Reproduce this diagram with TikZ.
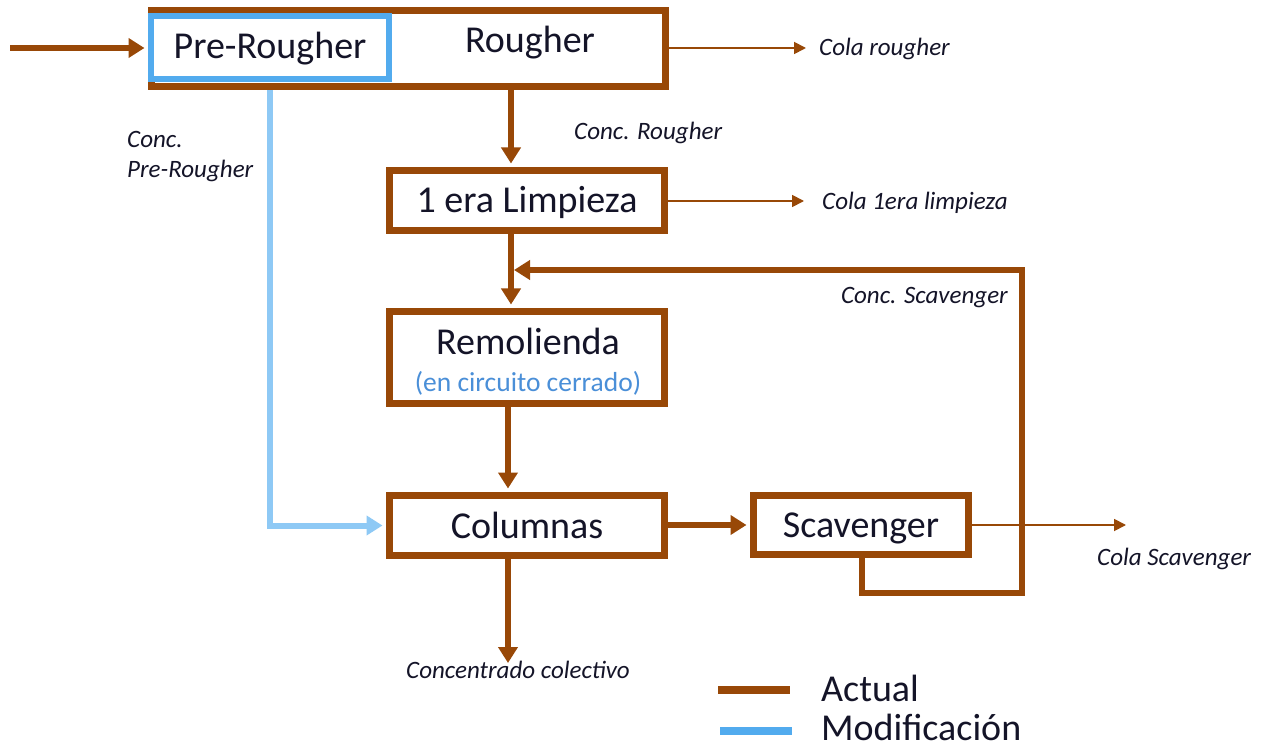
\documentclass[tikz,border=0pt]{standalone}
\usepackage{fontspec}
\setmainfont{Carlito}
\usetikzlibrary{arrows.meta,backgrounds}
\definecolor{rust}{HTML}{984807}
\definecolor{skyline}{HTML}{8EC9F5}
\definecolor{skybox}{HTML}{52ABEE}
\definecolor{noteblue}{HTML}{4A8FD8}
\definecolor{ink}{HTML}{141428}

\begin{document}
\begin{tikzpicture}[x=1pt,y=-1pt,
  unit/.style={draw=rust, line width=7pt, fill=white, inner sep=0pt,
    font=\fontsize{38}{40}\selectfont, text=ink, text height=30pt, text depth=5pt},
  unittext/.style={font=\fontsize{38}{40}\selectfont, text=ink, inner sep=0pt, anchor=base},
  flow/.style={draw=rust, line width=6pt,
    -{Triangle[length=16pt,width=19pt]}, shorten >=3.5pt},
  blueflow/.style={draw=skyline, line width=6pt,
    -{Triangle[length=16pt,width=19pt]}, shorten >=3.5pt},
  tail/.style={draw=rust, line width=1.8pt,
    -{Triangle[length=12pt,width=12pt]}},
  note/.style={font=\fontsize{25}{30}\selectfont\itshape, text=ink, inner sep=0pt},
  legendtext/.style={font=\fontsize{38}{40}\selectfont, text=ink, inner sep=0pt, anchor=base west}
]
\useasboundingbox (0,0) rectangle (1267,746);

% process units
\node[unit, minimum width=514pt, minimum height=76pt] (rough) at (408,49) {};
\node[unittext] (rtext) at (530,53) {Rougher};
\node[unit, draw=skybox, line width=6pt, minimum width=238pt, minimum height=63pt,
      text height=28pt] (pre) at (270,47.5) {Pre-Rougher};
\node[unit, minimum width=275pt, minimum height=60pt] (lim) at (527,200.5) {1 era Limpieza};
\node[unit, minimum width=275pt, minimum height=92pt] (rem) at (527,357.5) {};
\node[unittext] (remtext) at (528,354) {Remolienda};
\node[font=\fontsize{27.5}{30}\selectfont, text=noteblue, inner sep=0pt, anchor=base] (remnote) at (528,391) {(en circuito cerrado)};
\node[unit, minimum width=275pt, minimum height=60pt] (col) at (527,525.5) {Columnas};
\node[unit, minimum width=215pt, minimum height=59pt] (scav) at (861,525) {Scavenger};

% free ends and bends of the streams
\coordinate (inlet) at (10,48);
\coordinate (colaR) at (806,48);
\coordinate (colaL) at (804,201);
\coordinate (colaS) at (1126,524);
\coordinate (loopSW) at (862,593);
\coordinate (loopSE) at (1022,593);
\coordinate (loopNE) at (1022,270);
\coordinate (merge) at (511,270);
\coordinate (product) at (508,663);

% streams, drawn behind the units
\begin{scope}[on background layer]
  \fill[white] (0,0) rectangle (1267,746);
  \draw[flow] (inlet) -- (inlet -| pre.west);
  \draw[tail] (rough.east |- colaR) -- (colaR);
  \draw[flow] (rough.south -| merge) -- (lim.north -| merge);
  \draw[tail] (lim.east |- colaL) -- (colaL);
  \draw[flow] (lim.south -| merge) -- (rem.north -| merge);
  \draw[flow, shorten >=3pt] (scav.south -| loopSW) -- (loopSW) -- (loopSE) -- (loopNE) -- (merge);
  \draw[flow] (rem.south -| product) -- (col.north -| product);
  \draw[blueflow] (pre.south) |- (col.west);
  \draw[flow] (col.east |- scav.west) -- (scav.west);
  \draw[tail] (scav.east) -- (scav.east -| colaS);
  \draw[flow, shorten >=0pt] (col.south -| product) -- (product);
\end{scope}

% stream labels
\node[note, anchor=base west] (lcolaR) at (819,56) {Cola rougher};
\node[note, anchor=base west] (lconcR) at (574,140) {Conc. Rougher};
\node[note, anchor=base west] (lcolaL) at (822,210) {Cola 1era limpieza};
\node[note, anchor=base east] (lconcS) at (1008,303) {Conc. Scavenger};
\node[note, anchor=base west] (lconcP) at (127,148) {Conc.};
\node[note, anchor=base west] (lconcP2) at (127,178) {Pre-Rougher};
\node[note, anchor=base west] (lcolaS) at (1097,565) {Cola Scavenger};
\node[note, anchor=base] (lprod) at (518,678) {Concentrado colectivo};

% legend
\coordinate (keyA1) at (718,690);
\coordinate (keyA2) at (790,690);
\coordinate (keyB1) at (720,731);
\coordinate (keyB2) at (792,731);
\draw[rust, line width=8pt] (keyA1) -- (keyA2);
\draw[skybox, line width=8pt] (keyB1) -- (keyB2);
\node[legendtext] (lact) at (821,701) {Actual};
\node[legendtext] (lmod) at (821,740) {Modificación};
\end{tikzpicture}
\end{document}
